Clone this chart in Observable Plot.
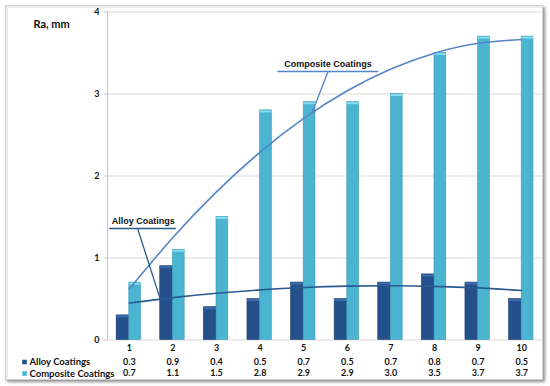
<!DOCTYPE html>
<html><head><meta charset="utf-8">
<script src="https://cdn.jsdelivr.net/npm/d3@7"></script>
<script src="https://cdn.jsdelivr.net/npm/@observablehq/plot@0.6"></script>
<style>
body{margin:0;background:#fff;}
#wrap{position:relative;width:550px;height:386px;overflow:hidden;}
#frame{position:absolute;left:5px;top:5px;width:536px;height:373px;border:1px solid #d0d0d0;box-shadow:2px 2px 3px rgba(0,0,0,0.45), inset 2px 2px 0 #ededed;background:#fff;}
#wrap svg{position:absolute;left:0;top:0;}
</style></head><body><div id="wrap"><div id="frame"></div></div>
<script>
const categories = [1, 2, 3, 4, 5, 6, 7, 8, 9, 10];
const alloy = [0.3, 0.9, 0.4, 0.5, 0.7, 0.5, 0.7, 0.8, 0.7, 0.5];
const composite = [0.7, 1.1, 1.5, 2.8, 2.9, 2.9, 3.0, 3.5, 3.7, 3.7];
const yTicks = [0, 1, 2, 3, 4];
const seriesNames = ["Alloy Coatings", "Composite Coatings"];
const yTitle = "Ra, mm";

// 2nd-order polynomial trendline (least squares), as in the original chart
function quadFit(xs, ys) {
  const n = xs.length, m = d3.mean(xs);
  const t = xs.map(x => x - m);
  const St2 = d3.sum(t, v => v * v), St4 = d3.sum(t, v => v ** 4);
  const Sy = d3.sum(ys), Sty = d3.sum(t, (v, i) => v * ys[i]), St2y = d3.sum(t, (v, i) => v * v * ys[i]);
  const b = Sty / St2;
  const c = (St2y - St2 * Sy / n) / (St4 - St2 * St2 / n);
  const a = (Sy - c * St2) / n;
  return x => a + b * (x - m) + c * (x - m) ** 2;
}
const fitAlloy = quadFit(categories, alloy);
const fitComp = quadFit(categories, composite);

const table = categories.map((c, i) => ({c, alloy: alloy[i], composite: composite[i]}));
const trendAlloy = categories.map(c => ({c, v: fitAlloy(c)}));
const trendComp = categories.map(c => ({c, v: fitComp(c)}));

const colAlloy = "#24508c", colComp = "#4bb4d0";
const capAlloy = "#3e6cab", capComp = "#86dcef";
const lineAlloy = "#2a5a8f", lineComp = "#5585c5";

const annotations = [
  {label: "Composite Coatings", x: 5.56, y: 3.37, u1: 4.41, u2: 6.72, yu: 3.274, lx1: 5.56, lx2: 5.19, fit: fitComp, color: lineComp},
  {label: "Alloy Coatings", x: 1.32, y: 1.445, u1: 0.55, u2: 2.08, yu: 1.36, lx1: 1.19, lx2: 1.71, fit: fitAlloy, color: lineAlloy}
];

const W = 0.29;
const font = "Lato, 'Open Sans', sans-serif";
const txt = {fontWeight: "bold", fontSize: 9, fill: "#111"};

const chart = Plot.plot({
  width: 550, height: 386,
  marginLeft: 107, marginRight: 7, marginTop: 11.5, marginBottom: 46.5,
  style: {background: "transparent", fontFamily: font, overflow: "visible"},
  x: {domain: [0.5, 10.5], axis: null},
  y: {domain: [0, 4], axis: null},
  color: {type: "identity"},
  marks: [
    Plot.ruleY(yTicks, {stroke: "#d9d9d9", strokeWidth: 1}),
    Plot.ruleX([0.5], {y1: 0, y2: 4, stroke: "#c6c6c6"}),
    Plot.rectY(table, {x1: d => d.c - W, x2: d => d.c, y1: 0, y2: "alloy", fill: colAlloy, stroke: "#1a3c6a", strokeWidth: 0.6}),
    Plot.ruleY(table, {y: "alloy", x1: d => d.c - W, x2: d => d.c, stroke: capAlloy, strokeWidth: 2, dy: 1}),
    Plot.rectY(table, {x1: d => d.c, x2: d => d.c + W - 0.02, y1: 0, y2: "composite", fill: colComp, stroke: "#3a9ab6", strokeWidth: 0.6}),
    Plot.ruleY(table, {y: "composite", x1: d => d.c, x2: d => d.c + W - 0.02, stroke: capComp, strokeWidth: 2, dy: 1}),
    Plot.line(trendComp, {x: "c", y: "v", curve: "natural", stroke: lineComp, strokeWidth: 1.6}),
    Plot.line(trendAlloy, {x: "c", y: "v", curve: "natural", stroke: lineAlloy, strokeWidth: 1.6}),
    Plot.ruleY(annotations, {y: "yu", x1: "u1", x2: "u2", stroke: "color", strokeWidth: 1.5}),
    Plot.link(annotations, {x1: "lx1", y1: "yu", x2: "lx2", y2: d => d.fit(d.lx2), stroke: "color", strokeWidth: 1.3}),
    Plot.text(annotations, {x: "x", y: "y", text: "label", fontWeight: "bold", fontSize: 9, fontFamily: "'Liberation Sans', Arial, sans-serif", fill: "#111"}),
    Plot.axisY({ticks: yTicks, tickFormat: d => String(d), tickSize: 3, tickPadding: 5, stroke: "#c6c6c6", label: null, ...txt}),
    Plot.text([yTitle], {frameAnchor: "top-left", dx: -74, dy: 8.5, textAnchor: "start", ...txt, fontSize: 11}),
    Plot.text(categories, {x: d => d, frameAnchor: "bottom", dy: 8, lineAnchor: "middle", text: d => String(d), ...txt}),
    Plot.text(table, {x: "c", frameAnchor: "bottom", dy: 22, lineAnchor: "middle", text: d => d.alloy.toFixed(1), ...txt}),
    Plot.text(table, {x: "c", frameAnchor: "bottom", dy: 33.5, lineAnchor: "middle", text: d => d.composite.toFixed(1), ...txt}),
    Plot.text([seriesNames[0]], {frameAnchor: "bottom-left", dx: -78, dy: 22, lineAnchor: "middle", textAnchor: "start", ...txt, fontSize: 9.5}),
    Plot.text([seriesNames[1]], {frameAnchor: "bottom-left", dx: -78, dy: 33.5, lineAnchor: "middle", textAnchor: "start", ...txt, fontSize: 9.5}),
    Plot.dot([colAlloy], {frameAnchor: "bottom-left", dx: -83, dy: 22, symbol: "square", r: 2.6, fill: d => d, stroke: "none"}),
    Plot.dot([colComp], {frameAnchor: "bottom-left", dx: -83, dy: 33.5, symbol: "square", r: 2.6, fill: d => d, stroke: "none"})
  ]
});
document.getElementById("wrap").appendChild(chart);
</script></body></html>
